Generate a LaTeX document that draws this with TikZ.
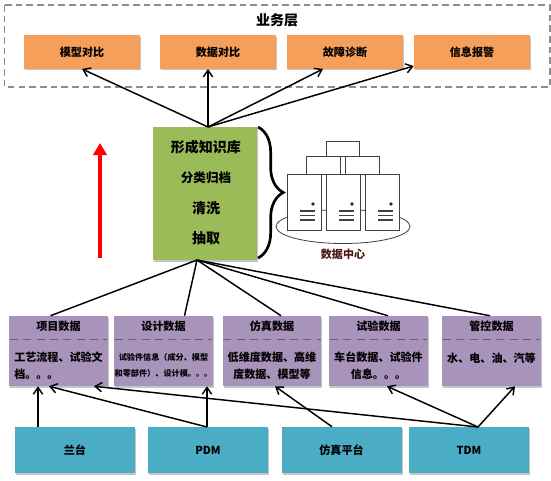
\documentclass[tikz,border=0pt]{standalone}
\usepackage{fontspec}
\setmainfont{Noto Sans CJK SC}
\usetikzlibrary{arrows.meta, calc, shadows, decorations.pathreplacing}

\tikzset{
    boxbase/.style={inner sep=0pt, align=center, font=\fontsize{8.3}{11.5}\selectfont\bfseries,
        drop shadow={shadow xshift=0.8pt, shadow yshift=-1.2pt, fill=black!45}},
    appbox/.style={boxbase, fill=appcolor, minimum width=87pt, minimum height=25pt},
    kbbox/.style={boxbase, fill=kbcolor, minimum width=78pt, minimum height=100pt},
    databox/.style={boxbase, fill=datacolor, minimum width=74pt, minimum height=52.5pt},
    srcbox/.style={boxbase, fill=srccolor, minimum width=90pt, minimum height=34.5pt},
    bodytext/.style={font=\fontsize{8.3}{11.5}\selectfont\bfseries, align=center, inner sep=0pt},
    bigtext/.style={font=\fontsize{10.5}{12}\selectfont\bfseries, inner sep=0pt},
    server/.style={draw=black!75, fill=white, line width=0.6pt},
    feed/.style={line width=1.1pt},
    link/.style={-{Straight Barb[length=5pt,width=7pt]}, line width=1.1pt},
}
\definecolor{appcolor}{HTML}{F69F5B}
\definecolor{kbcolor}{HTML}{9BBB59}
\definecolor{datacolor}{HTML}{A893BB}
\definecolor{srccolor}{HTML}{4BACC6}
\definecolor{labelbrown}{HTML}{4A1A12}

\begin{document}
\begin{tikzpicture}[x=0.75pt, y=-0.75pt]
    \useasboundingbox (0,0) rectangle (551,480);

    % Business layer
    \draw[draw=black!45, line width=0.8pt, dash pattern=on 5pt off 3pt] (4.5,5) rectangle (550,87);
    \node[bigtext] (title) at (277,20) {业务层};
    \node[appbox] (modelcmp) at (82,52) {模型对比};
    \node[appbox] (datacmp) at (218,52) {数据对比};
    \node[appbox] (fault) at (345,52) {故障诊断};
    \node[appbox] (report) at (472,52) {信息报警};

    % Knowledge base
    \node[kbbox] (kb) at (205,193.5) {};
    \node[bigtext] (kbform) at (206,147) {形成知识库};
    \node[bigtext, font=\fontsize{9.4}{12}\selectfont\bfseries] (kbsort) at (206,178) {分类归档};
    \node[bigtext] (kbclean) at (206,208) {清洗};
    \node[bigtext] (kbpick) at (206,238) {抽取};

    % Data center
    \draw[draw=black!75, fill=white, line width=0.6pt] (343,226.5) ellipse (67 and 17);
    \draw[decorate, decoration={brace, amplitude=19pt, aspect=0.5}, line width=2pt]
        (258,127) -- (258,258);
    \draw[server] (326,141) rectangle (359,156);
    \draw[server] (306,156) rectangle (340,174);
    \draw[server] (345,156) rectangle (379,174);
    \foreach \x in {287,326,365} {
        \draw[server] (\x,174) rectangle ++(34,56);
        \fill[black!85] (\x+26,204) circle (1.4pt);
        \foreach \y in {211,215.5,220} {
            \draw[black!75, line width=0.8pt] (\x+13,\y) -- ++(15,0);
        }
    }
    \node[bodytext, text=labelbrown] (dclabel) at (343,254) {数据中心};

    % Direction arrow
    \coordinate (redtail) at (100,258);
    \coordinate (redhead) at (100,143);
    \draw[-{Triangle[length=9pt,width=10pt]}, red, line width=2.4pt] (redtail) -- (redhead);

    % Data boxes
    \node[databox] (proj) at (58.5,351) {};
    \node[databox] (design) at (163.5,351) {};
    \node[databox] (sim) at (272,351) {};
    \node[databox] (test) at (378.5,351) {};
    \node[databox] (ctrl) at (491.5,351) {};
    \foreach \n/\t in {proj/项目数据, design/设计数据, sim/仿真数据, test/试验数据, ctrl/管控数据} {
        \node[bodytext] (\n title) at ($(\n.north)+(0,11)$) {\t};
        \draw[draw=black!60, line width=0.4pt, dash pattern=on 6pt off 4pt]
            ($(\n.north west)+(1,24)$) -- ($(\n.north east)+(-1,24)$);
    }
    \node[bodytext, align=left, anchor=west] (projtext) at (14,365.5) {工艺流程、试验文\\[1pt]档。。。};
    \node[bodytext, font=\fontsize{6.1}{11.5}\selectfont\bfseries] (designtext) at (163.5,365.5) {试验件信息（成分、模型\\[1pt]和零部件）、设计模。。。};
    \node[bodytext] (simtext) at (272,365.5) {低维度数据、高维\\[1pt]度数据、模型等};
    \node[bodytext] (testtext) at (378.5,365.5) {车台数据、试验件\\[1pt]信息。。。};
    \node[bodytext] (ctrltext) at (491.5,358) {水、电、油、汽等};

    % Source systems
    \node[srcbox] (bench) at (75,450) {兰台};
    \node[srcbox] (pdm) at (208,450) {PDM};
    \node[srcbox] (simplat) at (341.5,450) {仿真平台};
    \node[srcbox] (tdm) at (469,450) {TDM};

    % Links
    \coordinate (kbtop) at (208,127);
    \coordinate (kbfoot) at (197,260);
    \coordinate (pdmfoot) at (207,427);
    \coordinate (tdmfoot) at (478,427);
    \draw[link] (kbtop) -- (modelcmp.south);
    \draw[link] (kbtop) -- ($(datacmp.south)+(-10,0)$);
    \draw[link] (kbtop) -- ($(fault.south)+(-22,0)$);
    \draw[link] (kbtop) -- ($(report.west)+(0,14)$);
    \draw[feed] (kbfoot) -- ($(proj.north)+(-8,0)$);
    \draw[feed] (kbfoot) -- ($(design.north)+(21,0)$);
    \draw[feed] (kbfoot) -- ($(sim.north)+(9,0)$);
    \draw[feed] (kbfoot) -- ($(test.north)+(9.5,0)$);
    \draw[feed] (kbfoot) -- ($(ctrl.north)+(-1.5,0)$);
    \draw[link] ($(bench.north)+(-37,0)$) -- ($(proj.south)+(-20.5,0)$);
    \draw[link] (pdmfoot) -- ($(proj.south)+(-9.5,0)$);
    \draw[link] (pdmfoot) -- ($(design.south)+(43.5,0)$);
    \draw[link] (tdmfoot) -- ($(proj.south)+(35.5,0)$);
    \draw[link] ($(simplat.north)+(-9.5,0)$) -- ($(sim.south)+(3,0)$);
    \draw[link] (tdmfoot) -- ($(test.south)+(8.5,0)$);
    \draw[link] (tdmfoot) -- ($(ctrl.south)+(23.5,0)$);
\end{tikzpicture}
\end{document}
